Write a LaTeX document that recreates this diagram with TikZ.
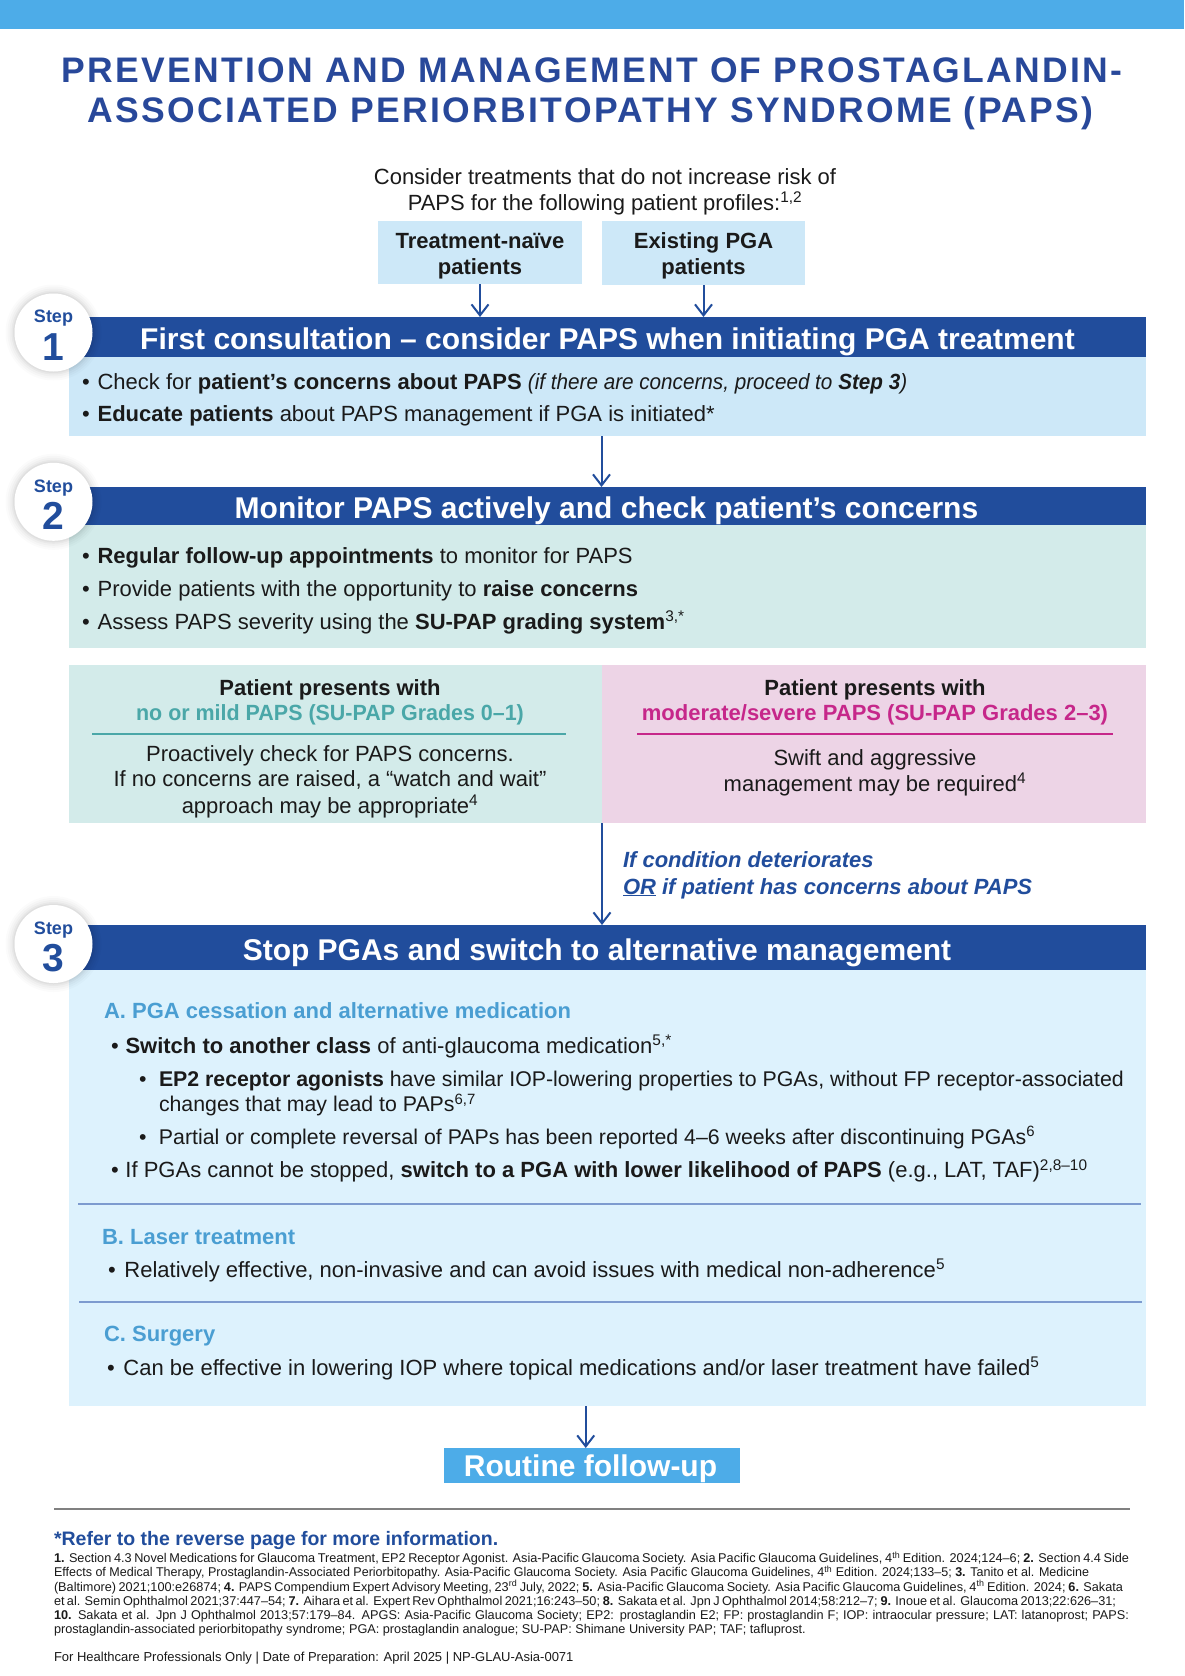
\documentclass[tikz,border=0pt]{standalone}
\usepackage{fontspec}
\usepackage{graphicx}
\setmainfont{Liberation Sans}
\usetikzlibrary{arrows.meta}
\definecolor{topbar}{HTML}{4DACE8}
\definecolor{dblue}{HTML}{214D9C}
\definecolor{titleblue}{HTML}{28489A}
\definecolor{lblue}{HTML}{CDE8F8}
\definecolor{lteal}{HTML}{D3EBEA}
\definecolor{lpink}{HTML}{EDD4E6}
\definecolor{lsky}{HTML}{DDF2FD}
\definecolor{tealtxt}{HTML}{4AA7A8}
\definecolor{magtxt}{HTML}{C6278A}
\definecolor{secblue}{HTML}{4A9ED2}
\definecolor{sepblue}{HTML}{7D9BCF}
\definecolor{rulegray}{HTML}{808080}
\definecolor{ink}{HTML}{1A1A1A}
\newcommand\fsz[1]{\fontsize{#1}{#1}\selectfont}
\newcommand\bul[1]{\makebox[#1][l]{•}}
\newcommand\stepbadge[4]{%
  \foreach \r/\o in {48/0.015,46/0.02,44/0.025,42/0.03,40.5/0.035}{\fill[black,opacity=\o] (#2,#3) circle[radius=\r pt];}
  \node[badge] (#1) at (#2,#3) {};
  \node[badgeword] (#1w) at (#2,#3-9.8) {Step};
  \node[badgenum] (#1n) at (#2,#3+27.5) {#4};
}
\begin{document}
\begin{tikzpicture}[x=1pt,y=-1pt,
  every node/.style={inner sep=0pt, outer sep=0pt},
  panel/.style={rectangle, anchor=north west, draw=none},
  body/.style={anchor=base west, font=\fsz{22}, text=ink},
  subbody/.style={anchor=base west, font=\fsz{21.3}, text=ink},
  cbody/.style={anchor=base, font=\fsz{22}, text=ink},
  cbold/.style={anchor=base, font=\fsz{22}\bfseries, text=ink},
  hdrtext/.style={anchor=base, font=\fsz{30}\bfseries, text=white},
  sechead/.style={anchor=base west, font=\fsz{22}\bfseries, text=secblue},
  reftext/.style={anchor=base west, font=\fsz{12.7}, text=ink},
  flowarrow/.style={draw=dblue, line width=2pt, -{Straight Barb[length=11pt,width=17pt]}},
  badge/.style={circle, fill=white, minimum size=78pt},
  badgeword/.style={anchor=base, font=\fsz{18}\bfseries, text=dblue},
  badgenum/.style={anchor=base, font=\fsz{39}\bfseries, text=dblue},
  sepline/.style={draw=sepblue, line width=1.2pt},
]
\useasboundingbox (0,0) rectangle (1184,1676);
\fill[white] (0,0) rectangle (1184,1676);
\node[panel, fill=topbar, minimum width=1184pt, minimum height=29pt] (topbar) at (0,0) {};

% title
\node[anchor=base, font=\fsz{35.5}\bfseries\addfontfeature{LetterSpace=6.5}, text=titleblue] (title1) at (592,82) {PREVENTION AND MANAGEMENT OF PROSTAGLANDIN-};
\node[anchor=base, font=\fsz{35.5}\bfseries\addfontfeature{LetterSpace=6.5}, text=titleblue] (title2) at (590.5,122.5) {ASSOCIATED PERIORBITOPATHY SYNDROME (PAPS)};

% intro
\node[cbody] (intro1) at (605,184) {Consider treatments that do not increase risk of};
\node[cbody] (intro2) at (605,210.5) {PAPS for the following patient profiles:\textsuperscript{1,2}};

\node[panel, fill=lblue, minimum width=204pt, minimum height=63pt] (naive) at (378,221) {};
\node[panel, fill=lblue, minimum width=203pt, minimum height=64pt] (exist) at (602,221) {};
\node[cbold] (naive1) at (480,248.3) {Treatment-naïve};
\node[cbold] (naive2) at (480,274.5) {patients};
\node[cbold] (exist1) at (703.5,248.3) {Existing PGA};
\node[cbold] (exist2) at (703.5,274.5) {patients};

% step 1
\node[panel, fill=lblue, minimum width=1077pt, minimum height=79pt] (b1) at (69,357) {};
\node[panel, fill=dblue, minimum width=1077pt, minimum height=40pt] (h1) at (69,317) {};
\node[hdrtext] (h1t) at (607.5,349.3) {First consultation – consider PAPS when initiating PGA treatment};
\node[body] (s1a) at (82,389.3) {\bul{15.6pt}Check for \textbf{patient’s concerns about PAPS} \scalebox{0.94}[1]{\textit{(if there are concerns, proceed to \textbf{Step 3})}}};
\node[body] (s1b) at (82,421.7) {\bul{15.6pt}\textbf{Educate patients} about PAPS management if PGA is initiated*};

\draw[flowarrow] (naive.south) -- (naive.south |- h1.north);
\draw[flowarrow] (exist.south) -- (exist.south |- h1.north);

% step 2
\node[panel, fill=lteal, minimum width=1077pt, minimum height=123pt] (b2) at (69,525) {};
\node[panel, fill=dblue, minimum width=1077pt, minimum height=38pt] (h2) at (69,487) {};
\node[hdrtext] (h2t) at (606.5,518.3) {Monitor PAPS actively and check patient’s concerns};
\node[body] (s2a) at (82,563.3) {\bul{15.6pt}\textbf{Regular follow-up appointments} to monitor for PAPS};
\node[body] (s2b) at (82,596.7) {\bul{15.6pt}Provide patients with the opportunity to \textbf{raise concerns}};
\node[body] (s2c) at (82,629.5) {\bul{15.6pt}Assess PAPS severity using the \textbf{SU-PAP grading system}\textsuperscript{3,*}};

\draw[flowarrow] ([xshift=-6pt]b1.south) -- ([xshift=-6pt]h2.north);

% split boxes
\node[panel, fill=lteal, minimum width=533pt, minimum height=158pt] (spl) at (69,665) {};
\node[panel, fill=lpink, minimum width=544pt, minimum height=158pt] (spr) at (602,665) {};
\node[cbold] (spl1) at (330,695) {Patient presents with};
\node[cbold, text=tealtxt] (spl2) at (330,720.5) {\scalebox{0.975}[1]{no or mild PAPS (SU-PAP Grades 0–1)}};
\draw[tealtxt, line width=1.2pt] (92,734) -- (566,734);
\node[cbody] (spl3) at (330,761.7) {Proactively check for PAPS concerns.};
\node[cbody] (spl4) at (330,786.7) {If no concerns are raised, a “watch and wait”};
\node[cbody] (spl5) at (330,813) {approach may be appropriate\textsuperscript{4}};
\node[cbold] (spr1) at (875,695) {Patient presents with};
\node[cbold, text=magtxt] (spr2) at (875,720.5) {moderate/severe PAPS (SU-PAP Grades 2–3)};
\draw[magtxt, line width=1.2pt] (637,734) -- (1113,734);
\node[cbody] (spr3) at (875,765) {Swift and aggressive};
\node[cbody] (spr4) at (875,791) {management may be required\textsuperscript{4}};

\node[body, font=\fsz{22}\bfseries\itshape, text=dblue] (cond1) at (623,867.3) {If condition deteriorates};
\node[body, font=\fsz{22}\bfseries\itshape, text=dblue] (cond2) at (623,894) {\underline{OR} if patient has concerns about PAPS};

% step 3
\node[panel, fill=lsky, minimum width=1077pt, minimum height=436pt] (b3) at (69,970) {};
\node[panel, fill=dblue, minimum width=1077pt, minimum height=45pt] (h3) at (69,925) {};
\node[hdrtext] (h3t) at (597,960) {Stop PGAs and switch to alternative management};
\draw[flowarrow] (spl.south east) -- (spl.south east |- h3.north);

\node[sechead] (secA) at (104,1018.3) {A. PGA cessation and alternative medication};
\node[body] (a1) at (111,1053.3) {\bul{14.5pt}\textbf{Switch to another class} of anti-glaucoma medication\textsuperscript{5,*}};
\node[subbody] (a2) at (139,1086.7) {\bul{20pt}\textbf{EP2 receptor agonists} have similar IOP-lowering properties to PGAs, without FP receptor-associated};
\node[subbody] (a2b) at (159,1111.7) {changes that may lead to PAPs\textsuperscript{6,7}};
\node[subbody] (a3) at (139,1144) {\bul{20pt}Partial or complete reversal of PAPs has been reported 4–6 weeks after discontinuing PGAs\textsuperscript{6}};
\node[body] (a4) at (111,1177.7) {\bul{14.5pt}If PGAs cannot be stopped, \textbf{switch to a PGA with lower likelihood of PAPS} (e.g., LAT, TAF)\textsuperscript{2,8–10}};
\draw[sepline] (78,1204) -- (1141,1204);
\node[sechead] (secB) at (102,1244) {B. Laser treatment};
\node[body] (b1t) at (108,1277.3) {\bul{16.5pt}Relatively effective, non-invasive and can avoid issues with medical non-adherence\textsuperscript{5}};
\draw[sepline] (79,1302) -- (1142,1302);
\node[sechead] (secC) at (104,1341.7) {C. Surgery};
\node[body] (c1t) at (107,1375) {\bul{16.5pt}Can be effective in lowering IOP where topical medications and/or laser treatment have failed\textsuperscript{5}};

% badges
\stepbadge{c1}{53.5}{332.5}{1}
\stepbadge{c2}{53.5}{501.8}{2}
\stepbadge{c3}{53.5}{944}{3}

% routine
\node[panel, fill=topbar, minimum width=295.5pt, minimum height=35pt] (routine) at (444,1448) {};
\node[hdrtext] (routinet) at (590.5,1476) {Routine follow-up};
\draw[flowarrow] ([xshift=-6pt]routine.north |- b3.south) -- ([xshift=-6pt]routine.north);

% footer
\draw[rulegray, line width=1.5pt] (54,1509) -- (1130,1509);
\node[anchor=base west, font=\fsz{19.5}\bfseries, text=dblue] (refer) at (54,1545) {*Refer to the reverse page for more information.};
\node[reftext] (r1) at (54,1562.7) {\makebox[1075pt][s]{\textbf{1.} Section 4.3 Novel Medications for Glaucoma Treatment, EP2 Receptor Agonist. Asia-Pacific Glaucoma Society. Asia Pacific Glaucoma Guidelines, 4\textsuperscript{th} Edition. 2024;124–6; \textbf{2.} Section 4.4 Side}};
\node[reftext] (r2) at (54,1576.9) {\scalebox{0.986}[1]{Effects of Medical Therapy, Prostaglandin-Associated Periorbitopathy. Asia-Pacific Glaucoma Society. Asia Pacific Glaucoma Guidelines, 4\textsuperscript{th} Edition. 2024;133–5; \textbf{3.} Tanito et al. Medicine}};
\node[reftext] (r3) at (54,1591.1) {\makebox[1069pt][s]{(Baltimore) 2021;100:e26874; \textbf{4.} PAPS Compendium Expert Advisory Meeting, 23\textsuperscript{rd} July, 2022; \textbf{5.} Asia-Pacific Glaucoma Society. Asia Pacific Glaucoma Guidelines, 4\textsuperscript{th} Edition. 2024; \textbf{6.} Sakata}};
\node[reftext] (r4) at (54,1605.3) {\makebox[1062pt][s]{et al. Semin Ophthalmol 2021;37:447–54; \textbf{7.} Aihara et al. Expert Rev Ophthalmol 2021;16:243–50; \textbf{8.} Sakata et al. Jpn J Ophthalmol 2014;58:212–7; \textbf{9.} Inoue et al. Glaucoma 2013;22:626–31;}};
\node[reftext] (r5) at (54,1619.5) {\makebox[1075pt][s]{\textbf{10.} Sakata et al. Jpn J Ophthalmol 2013;57:179–84. APGS: Asia-Pacific Glaucoma Society; EP2: prostaglandin E2; FP: prostaglandin F; IOP: intraocular pressure; LAT: latanoprost; PAPS:}};
\node[reftext] (r6) at (54,1633.7) {prostaglandin-associated periorbitopathy syndrome; PGA: prostaglandin analogue; SU-PAP: Shimane University PAP; TAF; tafluprost.};
\node[reftext, font=\fsz{13}] (fhp) at (54,1661.7) {For Healthcare Professionals Only | Date of Preparation: April 2025 | NP-GLAU-Asia-0071};
\end{tikzpicture}
\end{document}
